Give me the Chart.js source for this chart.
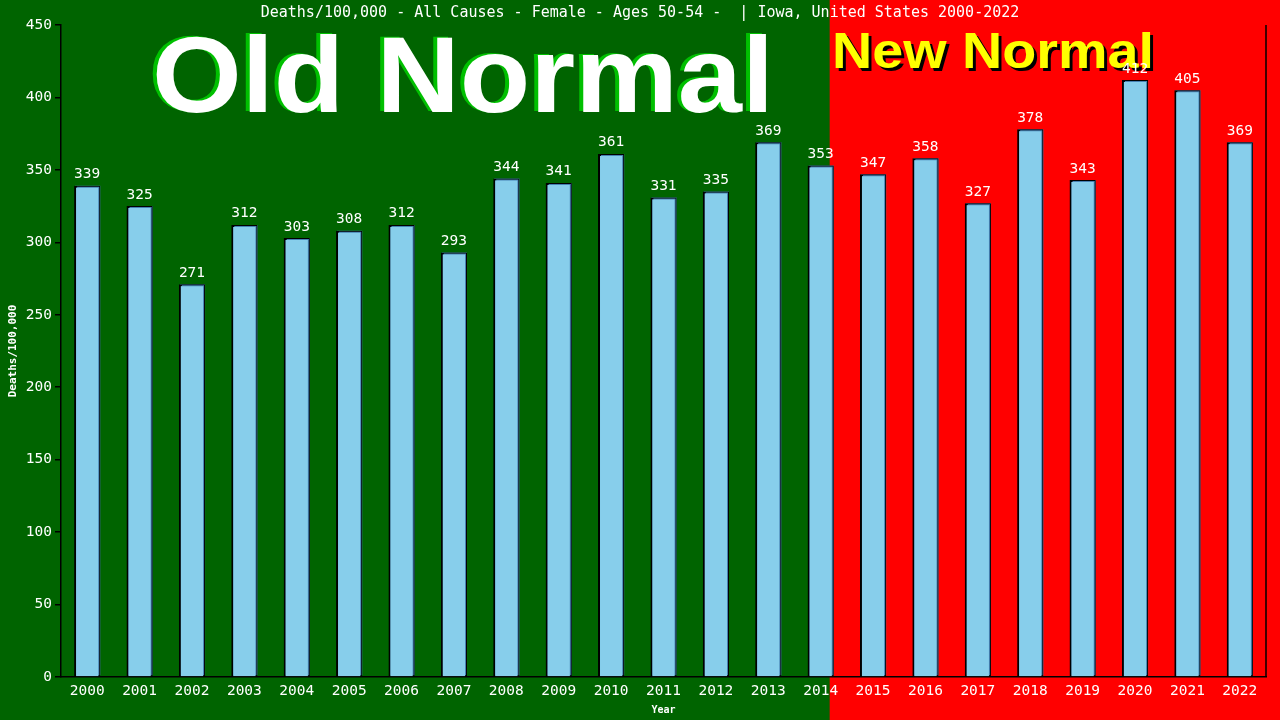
<!DOCTYPE html>
<html>
<head>
<meta charset="utf-8">
<script src="https://cdn.jsdelivr.net/npm/chart.js@4"></script>
<style>
  html, body { margin: 0; padding: 0; background: #006400; }
  #wrap { width: 1280px; height: 720px; }
</style>
</head>
<body>
<div id="wrap"><canvas id="myChart" width="1280" height="720"></canvas></div>
<script>
const years = ['2000','2001','2002','2003','2004','2005','2006','2007','2008','2009','2010','2011',
               '2012','2013','2014','2015','2016','2017','2018','2019','2020','2021','2022']
const deaths = [339, 325, 271, 312, 303, 308, 312, 293, 344, 341, 361, 331,
                335, 369, 353, 347, 358, 327, 378, 343, 412, 405, 369]
const yTicks = [0, 50, 100, 150, 200, 250, 300, 350, 400, 450]
const titleText = 'Deaths/100,000 - All Causes - Female - Ages 50-54 -  | Iowa, United States 2000-2022'

const mono = '"DejaVu Sans Mono", "Liberation Mono", monospace'

// background halves + big labels
const backdrop = {
    id: 'backdrop',
    beforeDraw(chart) {
        const { ctx, width, height, scales: { x } } = chart
        const split = x.getPixelForValue(14) + 9
        ctx.save()
        ctx.fillStyle = '#006400'
        ctx.fillRect(0, 0, split, height)
        ctx.fillStyle = '#ff0000'
        ctx.fillRect(split, 0, width - split, height)
        ctx.restore()
    },
    beforeDatasetsDraw(chart) {
        const { ctx } = chart
        ctx.save()
        // Old Normal
        ctx.font = 'bold 107px "Liberation Sans", Arial, sans-serif'
        ctx.textBaseline = 'alphabetic'
        ctx.textAlign = 'left'
        let w = ctx.measureText('Old Normal').width
        let sx = 622 / w
        ctx.translate(152, 112)
        ctx.scale(sx, 1)
        ctx.fillStyle = '#00c000'
        ctx.fillText('Old Normal', -4 / sx, -1)
        ctx.fillStyle = '#ffffff'
        ctx.fillText('Old Normal', 0, 0)
        ctx.restore()

        ctx.save()
        ctx.font = 'bold 50px "Liberation Sans", Arial, sans-serif'
        w = ctx.measureText('New Normal').width
        sx = 322 / w
        ctx.translate(832, 68)
        ctx.scale(sx, 1)
        ctx.fillStyle = '#000000'
        ctx.fillText('New Normal', 3 / sx, 3)
        ctx.fillStyle = '#ffff00'
        ctx.fillText('New Normal', 0, 0)
        ctx.restore()

        // title
        ctx.save()
        ctx.font = '15px ' + mono
        ctx.fillStyle = '#ffffff'
        ctx.textAlign = 'center'
        ctx.textBaseline = 'middle'
        ctx.fillText(titleText, 640, 13)
        ctx.restore()
    },
    beforeDatasetDraw(chart) {
        const ctx = chart.ctx
        ctx.save()
        ctx.shadowColor = '#4682b4'
        ctx.shadowOffsetX = 1
        ctx.shadowOffsetY = -1
        ctx.shadowBlur = 0
    },
    afterDatasetDraw(chart) {
        chart.ctx.restore()
    },
    afterDatasetsDraw(chart) {
        const { ctx, chartArea } = chart
        const meta = chart.getDatasetMeta(0)
        ctx.save()
        ctx.font = '14.5px ' + mono
        ctx.fillStyle = '#ffffff'
        ctx.textAlign = 'center'
        ctx.textBaseline = 'bottom'
        meta.data.forEach((bar, i) => {
            ctx.fillText(String(deaths[i]), bar.x, bar.y - 4)
        })
        // right frame line
        ctx.strokeStyle = '#000000'
        ctx.lineWidth = 1.5
        ctx.beginPath()
        ctx.moveTo(chartArea.right, chartArea.top)
        ctx.lineTo(chartArea.right, chartArea.bottom)
        ctx.stroke()
        ctx.restore()
    }
}

const ctx = document.getElementById('myChart').getContext('2d')
const myChart = new Chart(ctx, {
    type: 'bar',
    data: {
        labels: years,
        datasets: [
            {
                label: 'Deaths/100,000',
                data: deaths,
                backgroundColor: '#87ceeb',
                borderColor: '#000000',
                borderWidth: 2,
                barPercentage: 0.5,
                categoryPercentage: 1.0
            }
        ]
    },
    options: {
        responsive: false,
        animation: false,
        layout: { padding: { top: 25, right: 14, left: 0, bottom: 0 } },
        plugins: {
            legend: { display: false },
            tooltip: { enabled: false },
            title: { display: false }
        },
        scales: {
            x: {
                grid: { display: false },
                border: { color: '#000000', width: 1.5 },
                ticks: { color: '#ffffff', font: { family: mono, size: 14.5 }, padding: -2, maxRotation: 0, autoSkip: false },
                title: { display: true, text: 'Year', color: '#ffffff', font: { family: mono, size: 10, weight: 'bold' }, padding: { top: 0, bottom: 4 } },
                afterFit(scale) { scale.height = 43 }
            },
            y: {
                min: 0,
                max: 450,
                afterBuildTicks(scale) { scale.ticks = yTicks.map(v => ({ value: v })) },
                grid: { drawOnChartArea: false, color: '#000000', tickLength: 6, lineWidth: 1.5 },
                border: { color: '#000000', width: 1.5 },
                ticks: { color: '#ffffff', font: { family: mono, size: 14.5 }, padding: 3 },
                title: { display: true, text: 'Deaths/100,000', color: '#ffffff', font: { family: mono, size: 11, weight: 'bold' }, padding: { top: 7, bottom: 0 } },
                afterFit(scale) { scale.width = 61 }
            }
        }
    },
    plugins: [backdrop]
})
</script>
</body>
</html>
